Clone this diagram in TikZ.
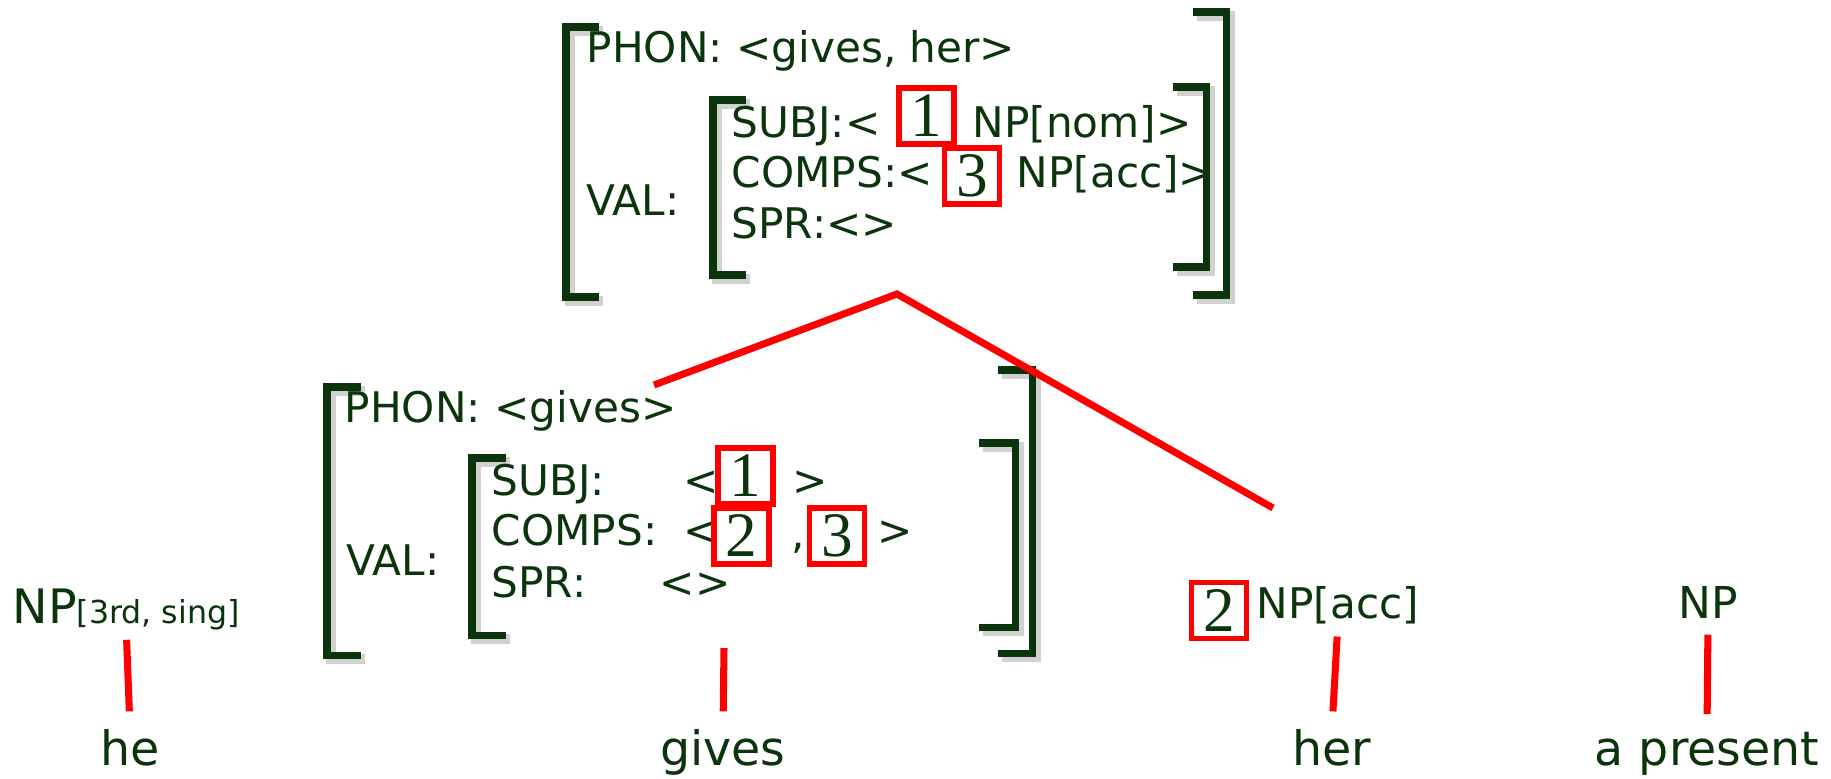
\documentclass[tikz,border=0pt]{standalone}
\usepackage{fontspec}
\setmainfont{DejaVu Sans}
\newfontfamily\tagfont{Liberation Serif}
\definecolor{avmgreen}{RGB}{12,52,12}
\tikzset{
  avm/.style={inner sep=0pt, anchor=base west, text=avmgreen, font=\fontsize{12}{14}\selectfont},
  word/.style={inner sep=0pt, anchor=base, text=avmgreen, font=\fontsize{13.5}{16}\selectfont},
  tagbox/.style={draw=red, line width=1.6pt, text=avmgreen, inner sep=0pt,
    minimum width=0.55cm, minimum height=0.56cm, font=\tagfont\fontsize{18}{20}\selectfont},
  brk/.style={draw=avmgreen, line width=2pt, line join=miter},
  brkshadow/.style={draw=black!18, line width=3pt, line join=miter},
  branch/.style={draw=red, line width=2pt},
}
\begin{document}
\begin{tikzpicture}[x=0.01cm, y=-0.01cm]
  \useasboundingbox (0,0) rectangle (1831,778);
  % brackets: outer x / inner x / top y / bottom y
  \foreach \xo/\xi/\yt/\yb in {566/599/27/297, 1226/1193/12/295, 713/746/100/275, 1206/1173/87/267,
                               327/361/387/655, 1032/998/370/653, 472/506/458/635, 1015/979/443/627} {
    \draw[brkshadow] (\xi+4,\yt+4) -- (\xo+4,\yt+4) -- (\xo+4,\yb+4) -- (\xi+4,\yb+4);
    \draw[brk] (\xi,\yt) -- (\xo,\yt) -- (\xo,\yb) -- (\xi,\yb);
  }

  % mother AVM
  \node[avm] (mphon) at (586,62) {PHON: <gives, her>};
  \node[avm] (mval) at (586,215) {VAL:};
  \node[avm] (msubj) at (731,137) {SUBJ:<};
  \node[tagbox] (mtag1) at (926.5,116) {1};
  \node[avm] (mnom) at (972,137) {NP[nom]>};
  \node[avm] (mcomps) at (731,187) {COMPS:<};
  \node[tagbox] (mtag3) at (972,176) {3};
  \node[avm] (macc) at (1016,187) {NP[acc]>};
  \node[avm] (mspr) at (731,238) {SPR:<>};

  % verb AVM
  \node[avm] (vphon) at (344,422) {PHON: <gives>};
  \node[avm] (vval) at (346,575) {VAL:};
  \node[avm] (vsubj) at (491,495) {SUBJ:};
  \node[avm] (vsubjl) at (683,495) {<};
  \node[tagbox] (vtag1) at (745.5,476) {1};
  \node[avm] (vsubjr) at (792,495) {>};
  \node[avm] (vcomps) at (491,545) {COMPS:};
  \node[avm] (vcompsl) at (683,545) {<};
  \node[tagbox] (vtag2) at (741.5,536) {2};
  \node[avm] (vcomma) at (791,548) {,};
  \node[tagbox] (vtag3) at (837,536) {3};
  \node[avm] (vcompsr) at (877,545) {>};
  \node[avm] (vspr) at (491,597) {SPR:};
  \node[avm] (vsprv) at (659,597) {<>};

  % categories
  \node[avm, font=\fontsize{13.5}{16}\selectfont] (np1) at (12,623) {NP{\fontsize{9}{11}\selectfont[3rd, sing]}};
  \node[tagbox] (ntag2) at (1219,610.5) {2};
  \node[avm] (np2) at (1256,618) {NP[acc]};
  \node[word, font=\fontsize{12.5}{15}\selectfont] (np3) at (1708,618) {NP};

  % words
  \node[word] (he) at (130,765) {he};
  \node[word] (gives) at (723,765) {gives};
  \node[word] (her) at (1332,765) {her};
  \node[word] (present) at (1707,765) {a present};

  % tree
  \coordinate (mbot) at (897,294);
  \coordinate (vtop) at (654,385);
  \coordinate (ctop) at (1273,508);
  \coordinate (vbot) at (724,648);
  \draw[branch] (vtop) -- (mbot) -- (ctop);
  \draw[branch, shorten <=4.8pt] (gives.north) -- (vbot);
  \draw[branch, shorten <=4.8pt, shorten >=2.7pt] (he.north) -- (np1.south);
  \draw[branch, shorten <=4.8pt, shorten >=3.5pt] (her.north) -- (np2.south);
  \draw[branch, shorten <=4.8pt, shorten >=4.5pt] (present.north) -- (np3.south);
\end{tikzpicture}
\end{document}
